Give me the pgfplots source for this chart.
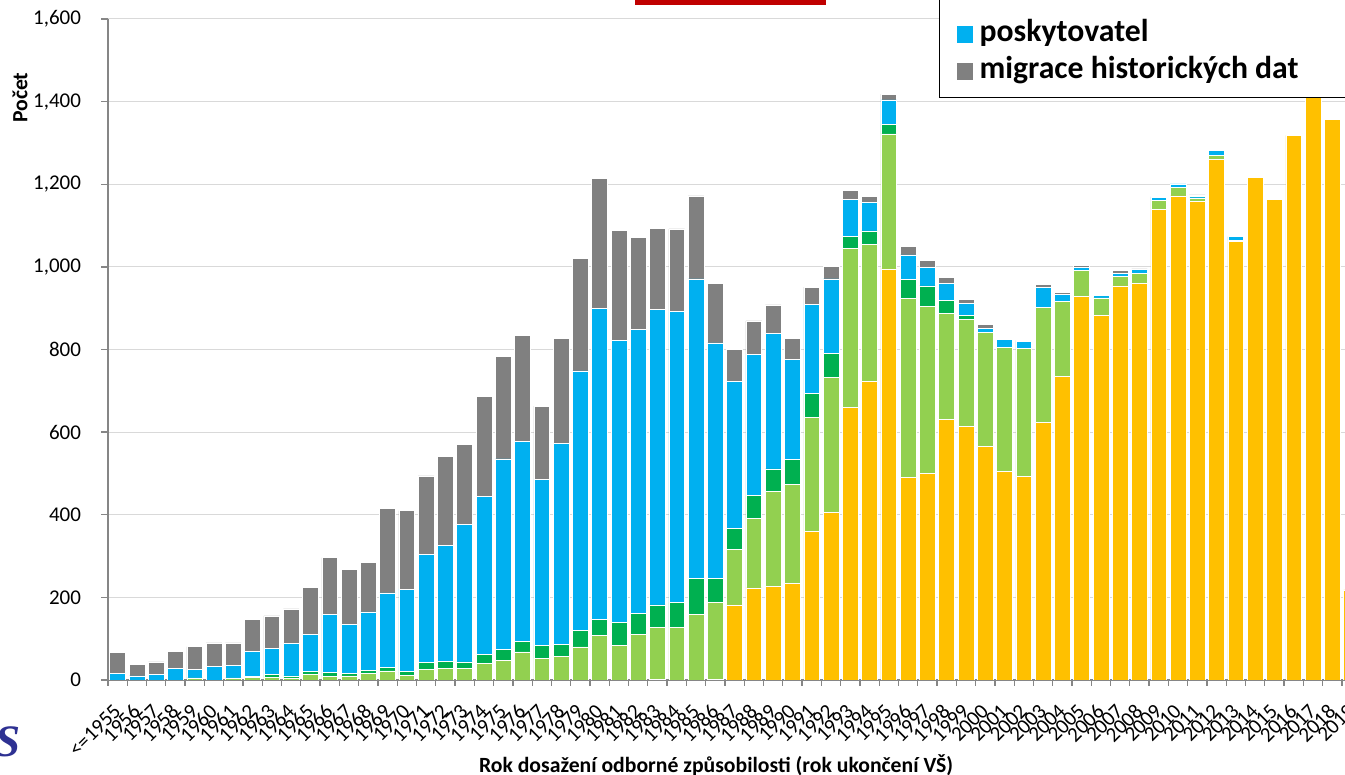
\documentclass[border=0pt]{standalone}
\usepackage{fontspec}
\setmainfont{Carlito}
\newfontfamily\logofont{Liberation Serif}
\usepackage{pgfplots}
\usepackage{pgfplotstable}
\pgfplotsset{compat=1.18}
\definecolor{cY}{HTML}{FFC000}
\definecolor{cLG}{HTML}{92D050}
\definecolor{cDG}{HTML}{00B050}
\definecolor{cB}{HTML}{00B0F0}
\definecolor{cG}{HTML}{808080}
\definecolor{axgray}{HTML}{868686}
\definecolor{gridgray}{HTML}{D9D9D9}
\definecolor{logoblue}{HTML}{2E3192}
\definecolor{redbox}{HTML}{C00000}
\newcommand\tickfont{\fontsize{10.5pt}{12pt}\selectfont}
\newcommand\titlefont{\fontsize{10.85pt}{13pt}\selectfont\bfseries}
\newcommand\legendfont{\fontsize{15.85pt}{19pt}\selectfont\bfseries}
\pgfplotsset{sqlegend/.style={legend image code/.code={\fill[##1, draw=none] (0pt,-4.6pt) rectangle (8.35pt,3.75pt);}}}

\pgfplotstableread{
x Y LG DG B G
0 0 0 0 16 50
1 0 0 0 10 27
2 0 0 0 13 31
3 0 0 0 28 42
4 0 5 0 20 56
5 0 0 0 33 57
6 0 5 0 30 55
7 0 6 3 60 78
8 0 7 6 63 79
9 0 5 5 79 83
10 0 14 7 89 114
11 0 8 10 140 138
12 0 10 5 120 133
13 0 15 8 142 120
14 0 22 9 180 204
15 0 11 9 200 190
16 0 26 16 262 190
17 0 29 16 281 215
18 0 29 15 333 193
19 0 41 20 384 241
20 0 48 26 461 249
21 0 68 25 484 258
22 0 52 31 402 178
23 0 58 28 487 253
24 0 80 41 627 273
25 0 107 40 753 315
26 0 83 56 683 267
27 0 110 52 687 223
28 1 127 54 715 197
29 0 127 61 704 200
30 0 159 87 725 201
31 2 186 58 570 144
32 182 134 51 356 77
33 223 169 54 342 81
34 227 229 55 327 70
35 234 239 60 243 51
36 360 276 57 217 41
37 405 327 58 181 31
38 660 385 28 91 21
39 723 332 32 69 15
40 995 327 23 59 14
41 490 434 46 59 20
42 501 404 49 44 18
43 631 257 31 41 14
44 613 260 9 29 11
45 566 276 0 10 8
46 505 301 0 18 3
47 492 310 0 17 3
48 624 278 0 48 8
49 734 182 0 17 6
50 929 63 0 6 5
51 882 43 0 5 3
52 954 23 0 7 8
53 960 24 0 9 2
54 1140 21 0 7 2
55 1172 20 0 9 0
56 1158 9 0 4 3
57 1261 8 0 12 0
58 1062 2 0 9 0
59 1216 0 0 0 0
60 1163 0 0 1 0
61 1318 0 0 0 0
62 1410 0 0 0 0
63 1357 0 0 0 0
64 218 0 0 0 0
}\datatable

\begin{document}
\begin{tikzpicture}
\useasboundingbox (0,0) rectangle (672.5pt,387.5pt);
\clip (0,0) rectangle (672.5pt,387.5pt);
\begin{axis}[
  at={(54pt,47.5pt)}, anchor=south west,
  scale only axis, width=626.6pt, height=330.5pt,
  xmin=-0.5, xmax=64.5, ymin=0, ymax=1600,
  ybar stacked, bar width=7.9pt,
  axis x line=bottom, axis y line=left,
  axis line style={-, draw=axgray, line width=0.65pt},
  ytick={0,200,...,1600},
  ymajorgrids, grid style={draw=gridgray, line width=0.5pt},
  tick align=outside,
  major tick length=3.5pt, minor tick length=3pt,
  xtick={0,...,64},
  xticklabels={{<=1955},1956,1957,1958,1959,1960,1961,1962,1963,1964,1965,1966,1967,1968,1969,1970,1971,1972,1973,1974,1975,1976,1977,1978,1979,1980,1981,1982,1983,1984,1985,1986,1987,1988,1989,1990,1991,1992,1993,1994,1995,1996,1997,1998,1999,2000,2001,2002,2003,2004,2005,2006,2007,2008,2009,2010,2011,2012,2013,2014,2015,2016,2017,2018,2019},
  major x tick style={draw=none},
  minor xtick={-0.5,0.5,...,64.5},
  minor x tick style={draw=axgray, line width=0.65pt},
  ytick style={draw=axgray, line width=0.65pt},
  xticklabel style={font=\tickfont, inner sep=0pt, xshift=-0.1pt, yshift=-10.4pt, rotate=45, anchor=east},
  yticklabel style={font=\tickfont, inner sep=0pt, anchor=east, xshift=-9.8pt},
  /pgf/number format/.cd, 1000 sep={,}, assume math mode=true, /pgfplots/.cd,
  xlabel={Rok dosažení odborné způsobilosti (rok ukončení VŠ)},
  ylabel={Počet},
  xlabel style={font=\titlefont, at={(axis description cs:0.4852,-0.1392)}, anchor=base},
  ylabel style={font=\titlefont, at={(axis description cs:-0.0644,0.881)}, anchor=base},
  legend style={at={(axis description cs:0.6635,0.8815)}, anchor=south west,
    draw=black, line width=0.75pt, outer sep=0pt, fill=white,
    inner xsep=8.6pt, inner ysep=5.5pt, row sep=2.3pt, column sep=3.1pt,
    font=\legendfont, nodes={inner sep=0pt, text height=12pt, text depth=4pt}},
  legend cell align=left,
]
\addlegendimage{empty legend}
\addlegendentry{\mbox{}}
\addplot[fill=cY, draw=white, line width=0.3pt, forget plot] table[x=x,y=Y]{\datatable};
\addplot[fill=cLG, draw=white, line width=0.3pt, forget plot] table[x=x,y=LG]{\datatable};
\addplot[fill=cDG, draw=white, line width=0.3pt, forget plot] table[x=x,y=DG]{\datatable};
\addplot[fill=cB, draw=white, line width=0.3pt, sqlegend] table[x=x,y=B]{\datatable};
\addlegendentry{poskytovatel}
\addplot[fill=cG, draw=white, line width=0.3pt, sqlegend] table[x=x,y=G]{\datatable};
\addlegendentry{migrace historických dat\hspace*{25pt}}
\end{axis}
\fill[redbox] (317.5pt,385.15pt) rectangle (413pt,392pt);
\node[text=logoblue, font=\logofont\fontsize{22.5pt}{24pt}\selectfont\itshape\bfseries, inner sep=0pt] at (4pt,16.5pt) {S};
\end{tikzpicture}
\end{document}
